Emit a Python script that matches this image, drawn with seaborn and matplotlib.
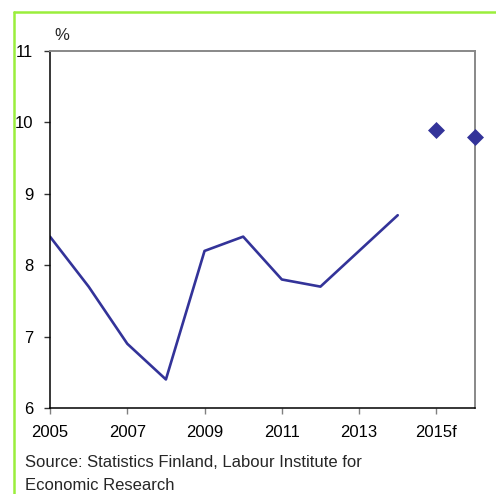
import matplotlib
matplotlib.use("Agg")
import matplotlib.pyplot as plt
from matplotlib.lines import Line2D
import seaborn as sns
import pandas as pd

# Unemployment rate, %
years = [2005, 2006, 2007, 2008, 2009, 2010, 2011, 2012, 2013, 2014]
rate = [8.4, 7.7, 6.9, 6.4, 8.2, 8.4, 7.8, 7.7, 8.2, 8.7]
forecast_years = [2015, 2016]
forecast_rate = [9.9, 9.8]
tick_years = [2005, 2007, 2009, 2011, 2013, 2015]
tick_labels = ["2005", "2007", "2009", "2011", "2013", "2015f"]
y_ticks = [6, 7, 8, 9, 10, 11]

sns.set_theme(style="white")
plt.rcParams["font.family"] = ["Liberation Sans", "DejaVu Sans"]

W, H = 496, 494
fig = plt.figure(figsize=(W / 100, H / 100), dpi=100)
fig.patch.set_facecolor("white")

ax = fig.add_axes([50 / W, (H - 408) / H, 425 / W, 357 / H])

hist = pd.DataFrame({"year": years, "rate": rate})
fc = pd.DataFrame({"year": forecast_years, "rate": forecast_rate})

col = "#333399"
sns.lineplot(data=hist, x="year", y="rate", ax=ax, color=col, linewidth=1.9)
sns.scatterplot(data=fc, x="year", y="rate", ax=ax, color=col, marker="D",
                s=75, edgecolor=col, linewidth=0, zorder=5, clip_on=False)

ax.set_xlim(2005, 2016)
ax.set_ylim(6, 11)
ax.set_xticks(tick_years)
ax.set_xticklabels(tick_labels)
ax.set_yticks(y_ticks)
ax.set_xlabel("")
ax.set_ylabel("")
ax.tick_params(axis="both", labelsize=12, labelcolor="black", direction="out",
               length=4, width=1, bottom=True, left=True, top=False, right=False)
ax.tick_params(axis="x", pad=8, color="#808080")
ax.tick_params(axis="y", pad=8, color="#333333")

for side in ["left", "bottom"]:
    ax.spines[side].set_color("black")
    ax.spines[side].set_linewidth(1.1)
for side in ["top", "right"]:
    ax.spines[side].set_color("#888888")
    ax.spines[side].set_linewidth(1.4)
ax.grid(False)

fig.text(62 / W, 1 - 35 / H, "%", fontsize=12, ha="center", va="center")

fig.text(25 / W, 1 - 462 / H, "Source: Statistics Finland, Labour Institute for",
         fontsize=12, ha="left", va="center")
fig.text(25 / W, 1 - 485 / H, "Economic Research",
         fontsize=12, ha="left", va="center")

green = "#9aee3c"
fig.add_artist(Line2D([14 / W, 14 / W], [0, 1 - 12 / H], color=green,
                      linewidth=1.8, transform=fig.transFigure))
fig.add_artist(Line2D([14 / W, 1], [1 - 12 / H, 1 - 12 / H], color=green,
                      linewidth=1.8, transform=fig.transFigure))

fig.savefig("out.png", dpi=100, facecolor="white")
